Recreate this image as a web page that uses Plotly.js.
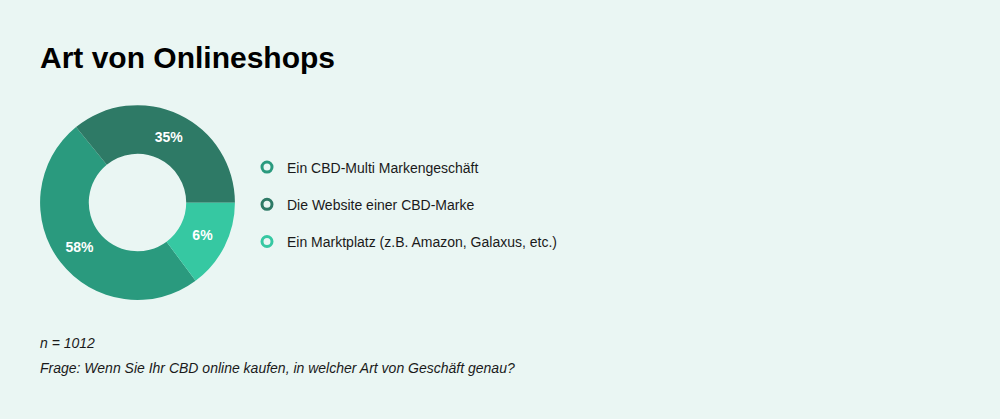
<!DOCTYPE html>
<html>
<head>
<meta charset="utf-8">
<script src="https://cdn.plot.ly/plotly-3.0.1.min.js"></script>
<style>
html,body{margin:0;padding:0;background:#eaf6f3;}
#chart{width:1000px;height:419px;}
</style>
</head>
<body>
<div id="chart"></div>
<script>
// Categories (legend order)
const categories = [
  "Ein CBD-Multi Markengeschäft",
  "Die Website einer CBD-Marke",
  "Ein Marktplatz (z.B. Amazon, Galaxus, etc.)"
];
// Slice sizes as drawn in the picture (estimated from the angles)
const sliceValues = [49.3, 35.9, 14.8];
// Percent labels as printed on the slices
const sliceLabels = ["58%", "35%", "6%"];
const colors = ["#2a9a7e", "#2e7a66", "#36c8a2"];

const titleText = "Art von Onlineshops";
const noteN = "n = 1012";
const noteQ = "Frage: Wenn Sie Ihr CBD online kaufen, in welcher Art von Geschäft genau?";

const font = "Liberation Sans, Arial, Helvetica, sans-serif";

const traces = [{
  type: "pie",
  labels: categories,
  values: sliceValues,
  text: sliceLabels,
  textinfo: "text",
  textposition: "inside",
  insidetextorientation: "horizontal",
  sort: false,
  direction: "clockwise",
  rotation: 143.4,
  hole: 0.5,
  marker: {colors: colors, line: {width: 0}},
  textfont: {family: font, size: 14, color: "#ffffff", weight: "bold"},
  domain: {x: [0.04, 0.235], y: [0.284, 0.749]},
  showlegend: false,
  hoverinfo: "label+text"
}];

categories.forEach((c, i) => {
  traces.push({
    type: "scatter",
    mode: "markers",
    x: [null], y: [null],
    name: c,
    legendgroup: "g" + i,
    marker: {symbol: "circle", size: 10, color: "#eaf6f3", line: {color: colors[i], width: 3}},
    showlegend: true,
    hoverinfo: "skip"
  });
});

const layout = {
  width: 1000, height: 419,
  margin: {l: 0, r: 0, t: 0, b: 0},
  paper_bgcolor: "#eaf6f3",
  plot_bgcolor: "rgba(0,0,0,0)",
  font: {family: font, color: "#1a1a1a"},
  xaxis: {visible: false, domain: [0.9, 1]},
  yaxis: {visible: false, domain: [0.9, 1]},
  showlegend: true,
  legend: {
    x: 0.247, y: 1 - 204.5/419, xanchor: "left", yanchor: "middle",
    bgcolor: "rgba(0,0,0,0)",
    font: {family: font, size: 14, color: "#1a1a1a"},
    tracegroupgap: 16,
    itemwidth: 30
  },
  annotations: [
    {text: titleText, xref: "paper", yref: "paper", x: 38/1000, y: 1 - 57/419,
     xanchor: "left", yanchor: "middle", showarrow: false,
     font: {family: font, size: 30, color: "#000000", weight: "bold"}},
    {text: "<i>" + noteN + "</i>", xref: "paper", yref: "paper", x: 38/1000, y: 1 - 343/419,
     xanchor: "left", yanchor: "middle", showarrow: false,
     font: {family: font, size: 14, color: "#1a1a1a"}},
    {text: "<i>" + noteQ + "</i>", xref: "paper", yref: "paper", x: 38/1000, y: 1 - 368/419,
     xanchor: "left", yanchor: "middle", showarrow: false,
     font: {family: font, size: 14, color: "#1a1a1a"}}
  ]
};

Plotly.newPlot("chart", traces, layout, {displayModeBar: false, staticPlot: true});
</script>
</body>
</html>
